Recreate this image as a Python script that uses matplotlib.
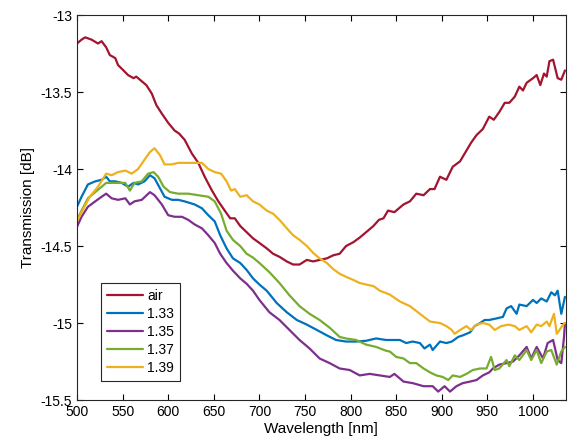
import numpy as np
import matplotlib
matplotlib.use("Agg")
import matplotlib.pyplot as plt

plt.rcParams['font.family'] = ['Liberation Sans', 'DejaVu Sans']

# wavelength [nm] / transmission [dB]
air_wl = [500, 505, 509, 516, 523, 527, 532, 536, 542, 545, 551, 556, 562, 565, 571, 576, 582, 587,
          593, 600, 607, 612, 618, 626, 633, 640, 648, 655, 662, 668, 673, 679, 686, 693, 700, 708,
          715, 722, 730, 737, 744, 752, 759, 766, 774, 781, 788, 795, 803, 810, 817, 825, 831, 836,
          841, 848, 858, 865, 872, 880, 887, 892, 898, 905, 912, 920, 925, 932, 938, 945, 952, 957,
          963, 969, 974, 980, 985, 989, 993, 1000, 1004, 1008, 1012, 1015, 1018, 1022, 1027, 1031,
          1035]
air_db = [-13.185, -13.16, -13.145, -13.16, -13.185, -13.17, -13.21, -13.26, -13.28, -13.325, -13.36,
          -13.39, -13.41, -13.40, -13.43, -13.455, -13.51, -13.585, -13.64, -13.70, -13.75, -13.77,
          -13.81, -13.90, -13.96, -14.05, -14.14, -14.21, -14.27, -14.32, -14.32, -14.37, -14.41,
          -14.45, -14.48, -14.515, -14.55, -14.57, -14.60, -14.62, -14.62, -14.59, -14.60, -14.59,
          -14.58, -14.56, -14.55, -14.50, -14.475, -14.445, -14.41, -14.37, -14.33, -14.32, -14.27,
          -14.28, -14.23, -14.21, -14.16, -14.17, -14.13, -14.13, -14.05, -14.07, -13.985, -13.95,
          -13.90, -13.83, -13.78, -13.74, -13.66, -13.68, -13.63, -13.57, -13.57, -13.53, -13.465,
          -13.49, -13.44, -13.41, -13.39, -13.455, -13.38, -13.40, -13.30, -13.29, -13.41, -13.42,
          -13.36]

n133_wl = [500, 505, 512, 520, 527, 532, 536, 542, 549, 556, 562, 567, 574, 580, 585, 591, 596, 604,
           611, 618, 629, 637, 644, 651, 657, 664, 671, 679, 686, 693, 700, 708, 719, 730, 741, 752,
           763, 774, 784, 795, 806, 817, 828, 839, 843, 854, 861, 868, 876, 881, 887, 890, 898, 905,
           911, 918, 923, 931, 936, 942, 947, 952, 960, 967, 971, 976, 982, 985, 993, 1000, 1004,
           1009, 1015, 1020, 1024, 1027, 1031, 1035]
n133_db = [-14.245, -14.18, -14.10, -14.08, -14.07, -14.05, -14.08, -14.08, -14.09, -14.115, -14.09,
           -14.10, -14.08, -14.04, -14.06, -14.125, -14.18, -14.20, -14.20, -14.21, -14.23, -14.255,
           -14.30, -14.34, -14.43, -14.515, -14.58, -14.61, -14.655, -14.71, -14.75, -14.79, -14.87,
           -14.93, -14.98, -15.01, -15.045, -15.08, -15.11, -15.12, -15.12, -15.115, -15.10, -15.11,
           -15.11, -15.11, -15.13, -15.12, -15.13, -15.165, -15.14, -15.175, -15.12, -15.13, -15.12,
           -15.09, -15.08, -15.06, -15.02, -15.00, -14.98, -14.98, -14.97, -14.96, -14.905, -14.89,
           -14.94, -14.88, -14.89, -14.85, -14.87, -14.84, -14.86, -14.80, -14.82, -14.79, -14.94,
           -14.83]

n135_wl = [500, 505, 512, 520, 527, 532, 538, 545, 553, 558, 563, 571, 580, 585, 593, 600, 607, 615,
           622, 629, 637, 644, 651, 657, 664, 671, 679, 686, 693, 700, 711, 722, 733, 744, 755, 766,
           777, 788, 799, 810, 821, 832, 843, 848, 858, 868, 880, 890, 896, 903, 909, 916, 923, 931,
           938, 945, 952, 956, 963, 971, 978, 985, 993, 998, 1004, 1011, 1016, 1022, 1027, 1031,
           1034, 1035]
n135_db = [-14.375, -14.31, -14.245, -14.21, -14.18, -14.16, -14.19, -14.20, -14.19, -14.23, -14.21,
           -14.20, -14.15, -14.17, -14.23, -14.30, -14.31, -14.31, -14.33, -14.36, -14.385, -14.43,
           -14.48, -14.55, -14.61, -14.66, -14.71, -14.745, -14.79, -14.85, -14.93, -14.98, -15.045,
           -15.11, -15.165, -15.23, -15.26, -15.295, -15.305, -15.34, -15.33, -15.34, -15.35, -15.33,
           -15.38, -15.39, -15.41, -15.41, -15.445, -15.41, -15.445, -15.41, -15.39, -15.38, -15.37,
           -15.34, -15.32, -15.295, -15.27, -15.26, -15.25, -15.21, -15.155, -15.23, -15.155, -15.23,
           -15.13, -15.11, -15.24, -15.26, -15.09, -15.00]

n137_wl = [500, 505, 512, 520, 527, 532, 538, 545, 553, 558, 563, 571, 578, 584, 589, 595, 602, 611,
           622, 633, 644, 651, 658, 664, 671, 679, 686, 693, 700, 711, 722, 733, 744, 755, 766, 777,
           788, 795, 806, 817, 828, 839, 843, 850, 858, 865, 872, 880, 887, 894, 901, 907, 912, 920,
           927, 934, 942, 949, 954, 958, 963, 971, 974, 980, 985, 993, 998, 1004, 1009, 1015, 1020,
           1026, 1031, 1035]
n137_db = [-14.33, -14.27, -14.19, -14.15, -14.115, -14.09, -14.09, -14.09, -14.09, -14.14, -14.09,
           -14.08, -14.03, -14.02, -14.05, -14.115, -14.15, -14.16, -14.16, -14.17, -14.18, -14.21,
           -14.29, -14.40, -14.46, -14.50, -14.55, -14.575, -14.61, -14.67, -14.74, -14.82, -14.89,
           -14.94, -14.98, -15.03, -15.09, -15.10, -15.11, -15.14, -15.155, -15.18, -15.185, -15.22,
           -15.23, -15.26, -15.26, -15.295, -15.32, -15.34, -15.35, -15.37, -15.34, -15.35, -15.33,
           -15.305, -15.295, -15.295, -15.22, -15.305, -15.295, -15.24, -15.28, -15.21, -15.24,
           -15.175, -15.24, -15.175, -15.26, -15.185, -15.175, -15.27, -15.185, -15.155]

n139_wl = [500, 505, 514, 523, 532, 538, 545, 553, 560, 567, 574, 580, 585, 591, 596, 604, 611, 618,
           629, 637, 644, 651, 658, 664, 669, 673, 679, 686, 693, 700, 708, 715, 722, 730, 737, 744,
           752, 759, 766, 774, 781, 788, 795, 803, 810, 817, 825, 832, 843, 854, 865, 876, 887, 898,
           905, 911, 914, 920, 927, 932, 938, 945, 952, 958, 965, 973, 980, 985, 993, 998, 1004,
           1009, 1015, 1018, 1023, 1026, 1029, 1033, 1035]
n139_db = [-14.34, -14.28, -14.18, -14.115, -14.03, -14.04, -14.02, -14.01, -14.03, -14.00, -13.94,
           -13.89, -13.865, -13.91, -13.97, -13.97, -13.96, -13.96, -13.96, -13.96, -14.00, -14.02,
           -14.03, -14.08, -14.14, -14.13, -14.18, -14.17, -14.21, -14.23, -14.27, -14.29, -14.33,
           -14.385, -14.43, -14.46, -14.50, -14.545, -14.58, -14.61, -14.65, -14.68, -14.70, -14.72,
           -14.74, -14.75, -14.76, -14.79, -14.815, -14.86, -14.89, -14.94, -14.99, -15.00, -15.02,
           -15.045, -15.07, -15.045, -15.02, -15.045, -15.01, -15.00, -15.01, -15.045, -15.02, -15.01,
           -15.02, -15.045, -15.02, -15.06, -15.01, -15.02, -14.99, -15.02, -14.94, -15.07, -15.045,
           -15.01, -15.00]

labels = ['air', '1.33', '1.35', '1.37', '1.39']
colors = ['#A2142F', '#0072BD', '#7E2F8E', '#77AC30', '#EDB120']

fig = plt.figure(figsize=(5.78, 4.48), dpi=100)
ax = fig.add_axes([0.1332, 0.107, 0.8458, 0.8595])

series = [(air_wl, air_db), (n133_wl, n133_db), (n135_wl, n135_db),
          (n137_wl, n137_db), (n139_wl, n139_db)]
for (wl, db), lab, c in zip(series, labels, colors):
    ax.plot(wl, db, color=c, lw=1.6, label=lab, solid_joinstyle='round', solid_capstyle='round')

ax.set_xlim(500, 1036)
ax.set_ylim(-15.5, -13)
ax.set_xticks(np.arange(500, 1001, 50))
ax.set_yticks([-15.5, -15, -14.5, -14, -13.5, -13])
ax.set_yticklabels(['-15.5', '-15', '-14.5', '-14', '-13.5', '-13'])
ax.tick_params(direction='in', top=True, right=True, labelsize=10, length=4, width=0.8)
for s in ax.spines.values():
    s.set_linewidth(0.8)
    s.set_color('#262626')

ax.set_xlabel('Wavelength [nm]', fontsize=11, labelpad=2)
ax.set_ylabel('Transmission [dB]', fontsize=11, labelpad=4)

leg = ax.legend(loc='lower left', bbox_to_anchor=(0.05, 0.05), fontsize=10, fancybox=False,
                framealpha=1, edgecolor='#262626', handlelength=2.6, borderpad=0.4,
                labelspacing=0.3, handletextpad=0.3, borderaxespad=0)
leg.get_frame().set_linewidth(0.8)

fig.savefig('out.png', dpi=100)
